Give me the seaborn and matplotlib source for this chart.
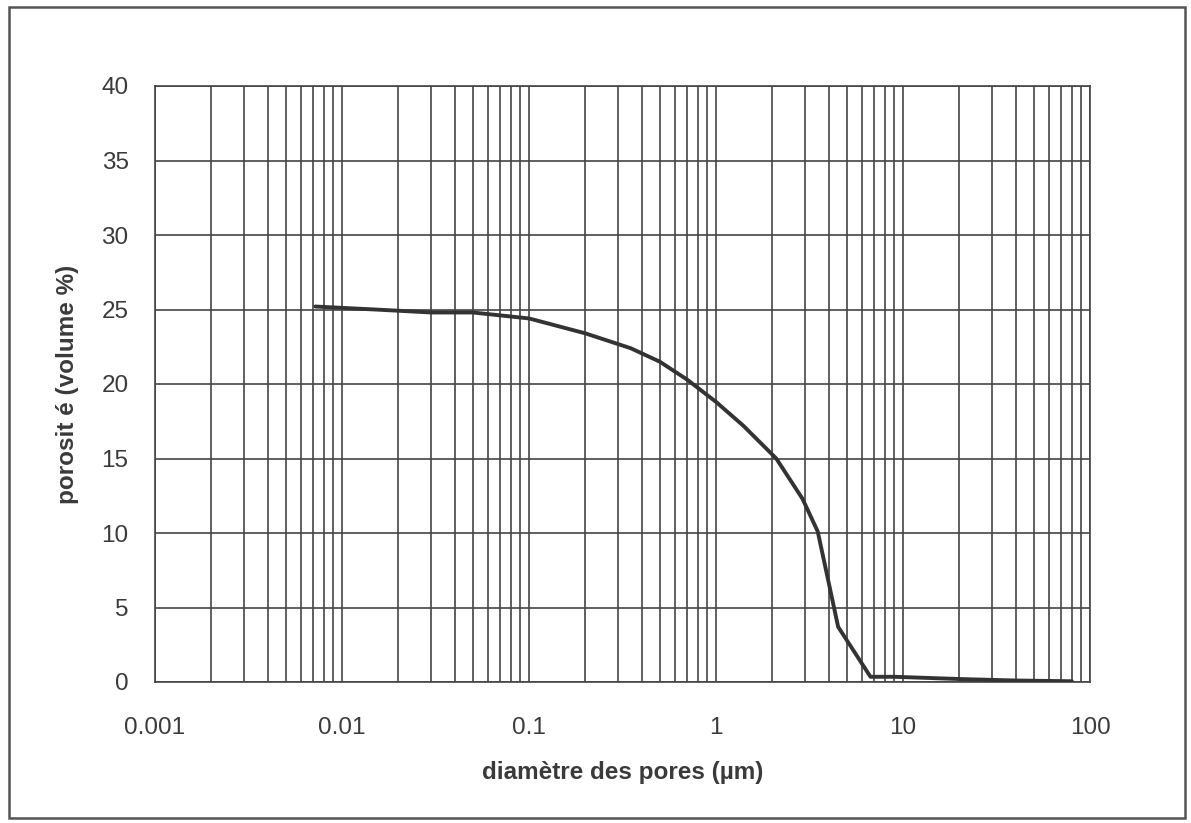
import matplotlib
matplotlib.use("Agg")
import matplotlib.pyplot as plt
import seaborn as sns
import numpy as np
import pandas as pd
from matplotlib.ticker import LogLocator, FixedLocator, NullFormatter, FuncFormatter
from matplotlib.patches import Rectangle

# data
diametre = [0.0072, 0.015, 0.03, 0.05, 0.1, 0.2, 0.35, 0.5, 0.7, 1.0, 1.4, 2.1,
            2.9, 3.5, 4.5, 6.7, 9.0, 20.0, 40.0, 80.0]
porosite = [25.2, 25.0, 24.8, 24.8, 24.4, 23.4, 22.4, 21.5, 20.3, 18.8, 17.2, 15.0,
            12.3, 10.1, 3.7, 0.35, 0.35, 0.2, 0.1, 0.05]
x_ticks = [0.001, 0.01, 0.1, 1, 10, 100]
x_tick_labels = ["0.001", "0.01", "0.1", "1", "10", "100"]
y_ticks = [0, 5, 10, 15, 20, 25, 30, 35, 40]

sns.set_theme(style="white")
plt.rcParams['font.family'] = ['Liberation Sans', 'DejaVu Sans']

df = pd.DataFrame({"d": diametre, "p": porosite})

fig = plt.figure(figsize=(11.91, 8.23), dpi=100)
ax = fig.add_axes([155/1191, 1-682/823, (1090-155)/1191, (682-86)/823])

ax.set_xscale("log")
ax.set_xlim(0.001, 100)
ax.set_ylim(0, 40)

# grid
ax.xaxis.set_major_locator(FixedLocator(x_ticks))
ax.xaxis.set_minor_locator(LogLocator(base=10, subs=np.arange(2, 10)))
ax.xaxis.set_minor_formatter(NullFormatter())
ax.xaxis.set_major_formatter(FuncFormatter(lambda v, p: x_tick_labels[x_ticks.index(v)] if v in x_ticks else ""))
ax.set_yticks(y_ticks)
ax.grid(which="both", axis="x", color="#444444", lw=1.2)
ax.grid(which="major", axis="y", color="#444444", lw=1.2)
ax.set_axisbelow(True)

sns.lineplot(data=df, x="d", y="p", ax=ax, color="#333333", lw=2.8, zorder=5)

for s in ax.spines.values():
    s.set_color("#444444")
    s.set_linewidth(1.2)

ax.tick_params(axis="both", which="major", direction="out", length=7, width=1.2,
               color="#444444", labelsize=17.5, labelcolor="#3a3a3a")
ax.tick_params(axis="x", which="major", pad=18)
ax.tick_params(axis="x", which="minor", length=0)
ax.tick_params(axis="y", pad=12)

ax.set_xlabel("diamètre des pores (µm)", fontsize=17.5, fontweight="bold", color="#3a3a3a")
ax.set_ylabel("porosit é (volume %)", fontsize=17.5, fontweight="bold", color="#3a3a3a")
ax.xaxis.set_label_coords(0.5, -(761-682)/596)
ax.yaxis.set_label_coords((79-155)/935, 0.5)

# outer frame
fig.patches.append(Rectangle((9/1191, 1-818/823), (1185-9)/1191, (818-7)/823,
                             transform=fig.transFigure, fill=False,
                             edgecolor="#555555", lw=1.8))

fig.savefig("out.png", dpi=100)
